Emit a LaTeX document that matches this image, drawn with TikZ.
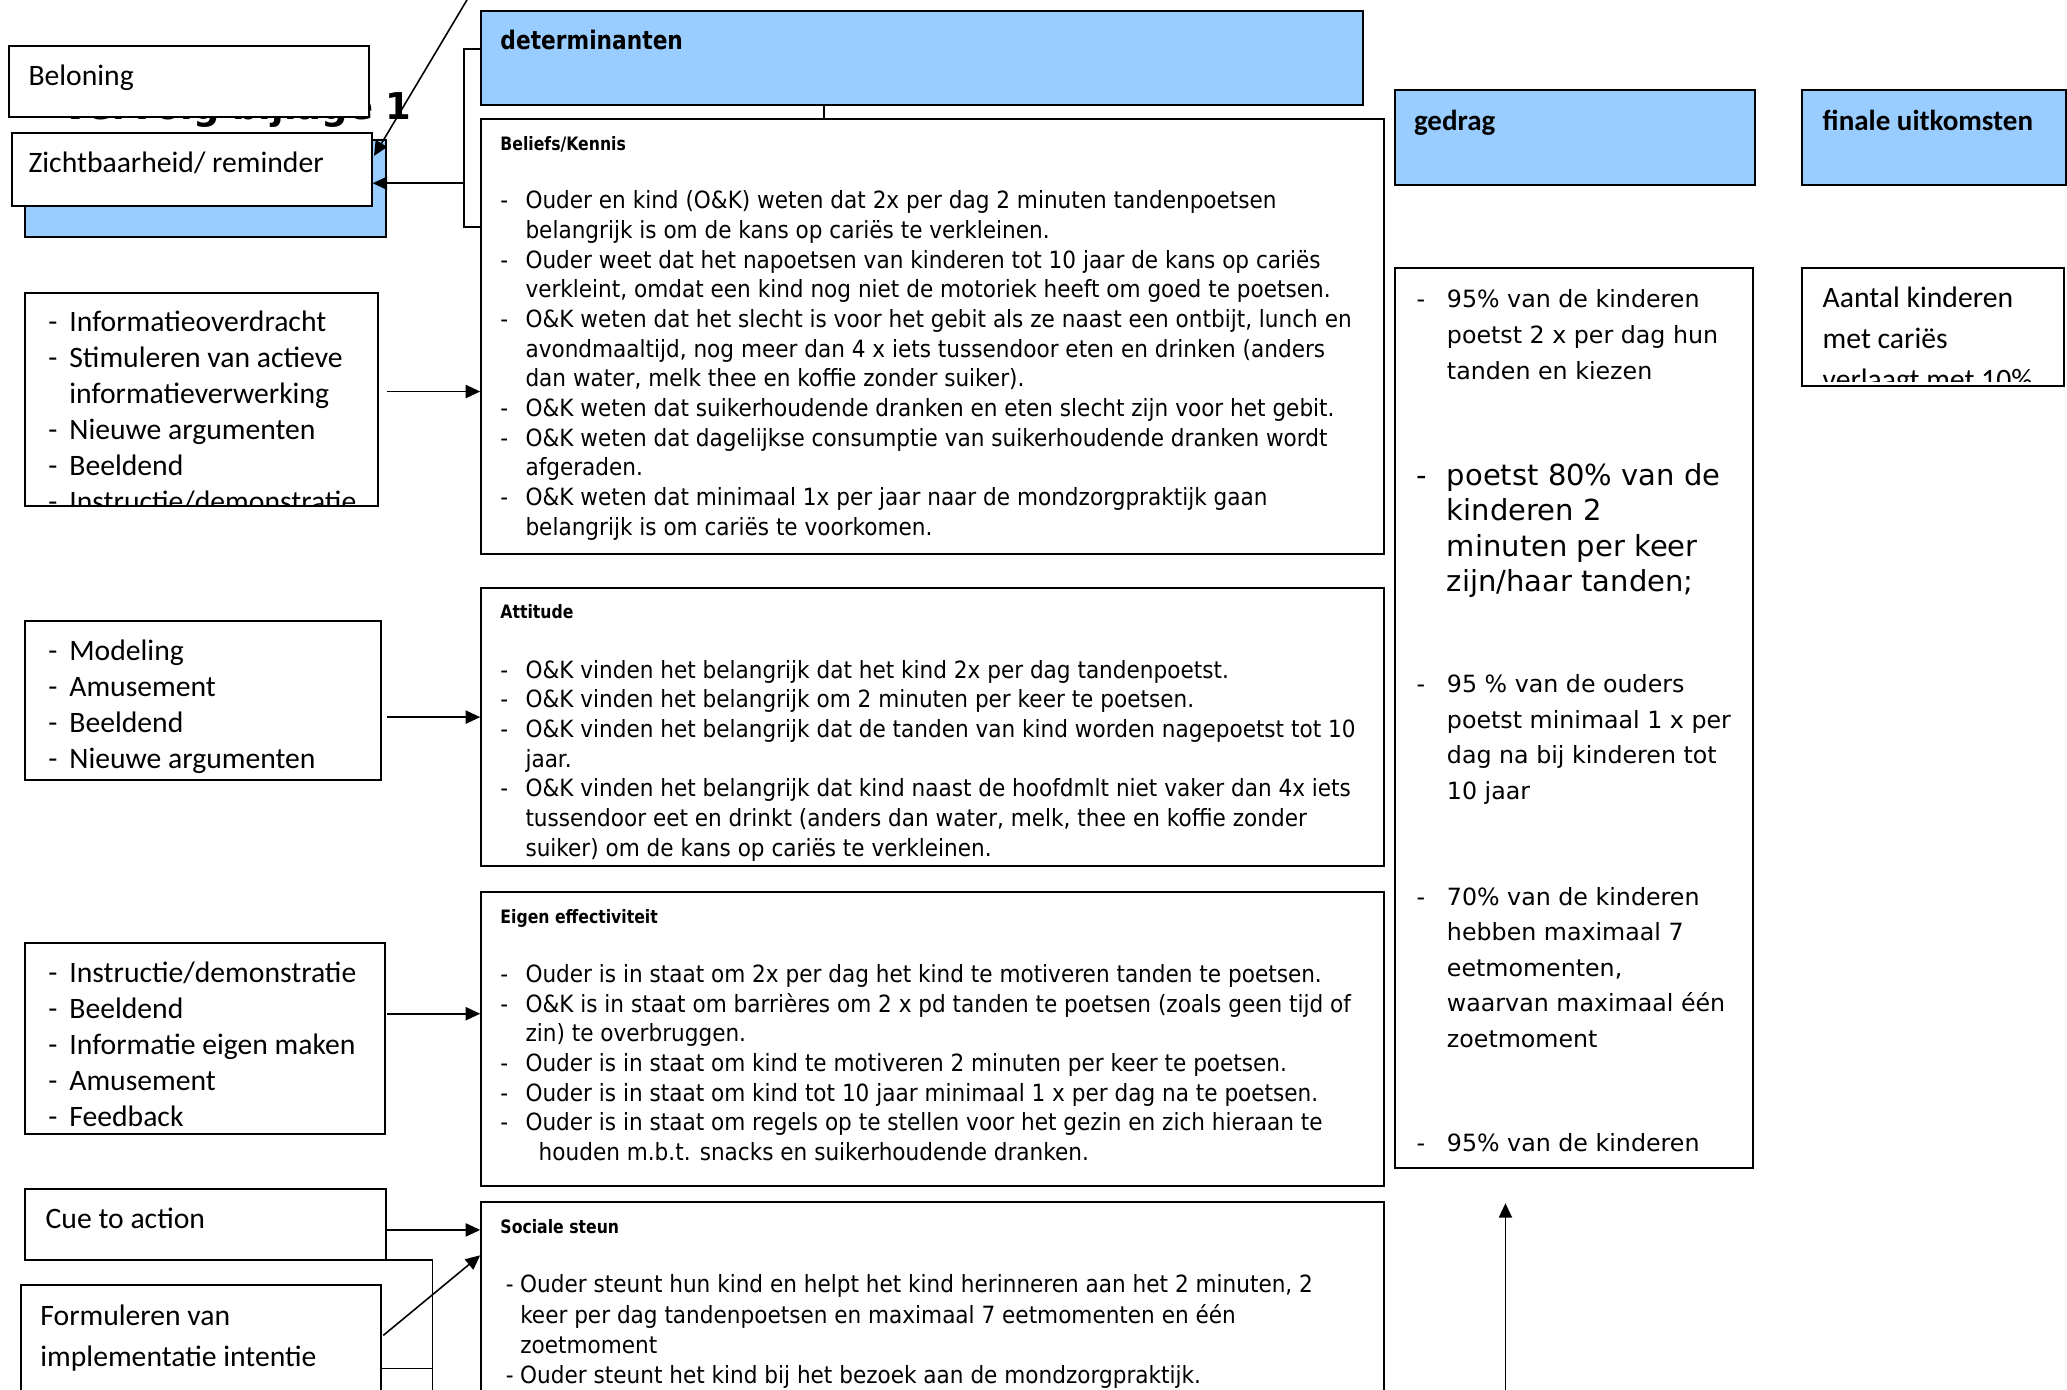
\documentclass[tikz,border=0pt]{standalone}
\usepackage{fontspec}
\setmainfont{Carlito}
\newfontfamily\verd[FakeStretch=0.91]{DejaVu Sans}
\newfontfamily\verdsmal[FakeStretch=0.85]{DejaVu Sans}
\newfontfamily\verdw{DejaVu Sans}
\usetikzlibrary{arrows.meta,fit,calc}
\definecolor{lichtblauw}{RGB}{153,204,255}
\newlength{\streepbreed}
\newcommand{\streep}{\makebox[\streepbreed][l]{-}}
\newcommand{\verder}{\hspace*{\streepbreed}}

\begin{document}
\begin{tikzpicture}[x=0.5pt,y=-0.5pt,>={Triangle[length=5.5pt,width=5pt]},
  vak/.style={draw,line width=0.75pt,fill=white,inner sep=0pt},
  kop/.style={vak,fill=lichtblauw},
  pijl/.style={->,line width=0.6pt},
  lijn/.style={line width=0.6pt},
  tekst/.style={anchor=base west,inner sep=0pt,font=\fontsize{11.25}{13}\selectfont},
  lijst/.style={anchor=north west,inner sep=0pt,align=left,
    font=\fontsize{11.25}{13.65}\selectfont\setlength{\streepbreed}{8pt}},
  det/.style={anchor=north west,inner sep=0pt,align=left,
    font=\verd\fontsize{9}{11.25}\selectfont\setlength{\streepbreed}{9.5pt}},
  steunlijst/.style={det,
    font=\verd\fontsize{9}{11.5}\selectfont\setlength{\streepbreed}{5.5pt}},
  dettitel/.style={anchor=base west,inner sep=0pt,font=\verdsmal\bfseries\fontsize{7}{8}\selectfont},
  kopje/.style={anchor=base west,inner sep=0pt,font=\bfseries\fontsize{11}{13}\selectfont},
  doel/.style={anchor=north west,inner sep=0pt,align=left,
    font=\verdw\fontsize{9}{13.5}\selectfont\setlength{\streepbreed}{11.5pt}}]

  \useasboundingbox (0,0) rectangle (1568,1054);

  % titel, grotendeels onder de vakken
  \node[anchor=base east,inner sep=0pt,font=\verdw\bfseries\fontsize{14}{16}\selectfont]
    (titel) at (312.6,91) {Vervolg bijlage 1};

  % linkerkolom
  \node[vak,fit={(7,35) (280,89)}] (beloning) {};
  \node[tekst] (beloningt) at ($(beloning.north west)+(15,30.6)$) {Beloning};
  \node[kop,fit={(19,106) (293,180)}] (blauw) {};
  \node[vak,fit={(9,101) (282,156)}] (zicht) {};
  \node[tekst] (zichtt) at ($(zicht.north west)+(13,30.6)$) {Zichtbaarheid/ reminder};

  \node[vak,fit={(19,222) (287,384)}] (info) {};
  \begin{scope}
    \clip (info.north west) rectangle ([yshift=1pt]info.south east);
    \node[lijst] (infot) at ($(info.north west)+(18,10.5)$) {\strut\streep Informatieoverdracht\\
      \streep Stimuleren van actieve\\ \verder informatieverwerking\\
      \streep Nieuwe argumenten\\ \streep Beeldend\\ \streep Instructie/demonstratie};
  \end{scope}

  \node[vak,fit={(19,471) (289,592)}] (model) {};
  \node[lijst] (modelt) at ($(model.north west)+(18,11.5)$) {\strut\streep Modeling\\
    \streep Amusement\\ \streep Beeldend\\ \streep Nieuwe argumenten};

  \node[vak,fit={(19,715) (292,860)}] (instr) {};
  \node[lijst] (instrt) at ($(instr.north west)+(18,11.5)$) {\strut\streep Instructie/demonstratie\\
    \streep Beeldend\\ \streep Informatie eigen maken\\ \streep Amusement\\ \streep Feedback};

  \node[vak,fit={(19,902) (293,956)}] (cue) {};
  \node[tekst] (cuet) at ($(cue.north west)+(16,30.6)$) {Cue to action};

  \node[vak,fit={(16,975) (289,1080)}] (form) {};
  \node[lijst,font=\fontsize{11.25}{15.5}\selectfont] (formt) at ($(form.north west)+(15,8.9)$)
    {\strut Formuleren van\\ implementatie intentie};

  % determinanten
  \node[kop,fit={(365,8) (1034,80)}] (det) {};
  \node[anchor=base west,inner sep=0pt,font=\verdsmal\bfseries\fontsize{9.7}{11}\selectfont]
    (dett) at ($(det.north west)+(15,30.4)$) {determinanten};

  \node[vak,fit={(365,90) (1050,420)}] (kennis) {};
  \node[dettitel] (kennist) at ($(kennis.north west)+(15,24.6)$) {Beliefs/Kennis};
  \node[det] (kennisl) at ($(kennis.north west)+(15,53)$) {\strut\streep Ouder en kind (O\&K) weten dat 2x per dag 2 minuten tandenpoetsen\\
    \verder belangrijk is om de kans op cariës te verkleinen.\\
    \streep Ouder weet dat het napoetsen van kinderen tot 10 jaar de kans op cariës\\
    \verder verkleint, omdat een kind nog niet de motoriek heeft om goed te poetsen.\\
    \streep O\&K weten dat het slecht is voor het gebit als ze naast een ontbijt, lunch en\\
    \verder avondmaaltijd, nog meer dan 4 x iets tussendoor eten en drinken (anders\\
    \verder dan water, melk thee en koffie zonder suiker).\\
    \streep O\&K weten dat suikerhoudende dranken en eten slecht zijn voor het gebit.\\
    \streep O\&K weten dat dagelijkse consumptie van suikerhoudende dranken wordt\\
    \verder afgeraden.\\
    \streep O\&K weten dat minimaal 1x per jaar naar de mondzorgpraktijk gaan\\
    \verder belangrijk is om cariës te voorkomen.};

  \node[vak,fit={(365,446) (1050,657)}] (attitude) {};
  \node[dettitel] (attitudet) at ($(attitude.north west)+(15,23.6)$) {Attitude};
  \node[det] (attitudel) at ($(attitude.north west)+(15,53)$) {\strut\streep O\&K vinden het belangrijk dat het kind 2x per dag tandenpoetst.\\
    \streep O\&K vinden het belangrijk om 2 minuten per keer te poetsen.\\
    \streep O\&K vinden het belangrijk dat de tanden van kind worden nagepoetst tot 10\\
    \verder jaar.\\
    \streep O\&K vinden het belangrijk dat kind naast de hoofdmlt niet vaker dan 4x iets\\
    \verder tussendoor eet en drinkt (anders dan water, melk, thee en koffie zonder\\
    \verder suiker) om de kans op cariës te verkleinen.};

  \node[vak,fit={(365,677) (1050,900)}] (eigen) {};
  \node[dettitel] (eigent) at ($(eigen.north west)+(15,24.6)$) {Eigen effectiviteit};
  \node[det] (eigenl) at ($(eigen.north west)+(15,53)$) {\strut\streep Ouder is in staat om 2x per dag het kind te motiveren tanden te poetsen.\\
    \streep O\&K is in staat om barrières om 2 x pd tanden te poetsen (zoals geen tijd of\\
    \verder zin) te overbruggen.\\
    \streep Ouder is in staat om kind te motiveren 2 minuten per keer te poetsen.\\
    \streep Ouder is in staat om kind tot 10 jaar minimaal 1 x per dag na te poetsen.\\
    \streep Ouder is in staat om regels op te stellen voor het gezin en zich hieraan te\\
    \hspace*{14.5pt}houden m.b.t. snacks en suikerhoudende dranken.};

  \node[vak,fit={(365,912) (1050,1110)}] (steun) {};
  \node[dettitel] (steunt) at ($(steun.north west)+(15,24.6)$) {Sociale steun};
  \node[steunlijst] (steunl) at ($(steun.north west)+(19,53)$) {\strut\streep Ouder steunt hun kind en helpt het kind herinneren aan het 2 minuten, 2\\
    \verder keer per dag tandenpoetsen en maximaal 7 eetmomenten en één\\
    \verder zoetmoment\\
    \streep Ouder steunt het kind bij het bezoek aan de mondzorgpraktijk.};

  % gedrag en uitkomsten
  \node[kop,fit={(1058,68) (1331,140)}] (gedrag) {};
  \node[kopje] (gedragt) at ($(gedrag.north west)+(15,31.6)$) {gedrag};
  \node[kop,fit={(1367,68) (1567,140)}] (finale) {};
  \node[kopje] (finalet) at ($(finale.north west)+(16,31.6)$) {finale uitkomsten};

  \node[vak,fit={(1058,203) (1330,886)}] (gedl) {};
  \node[doel] (doel1) at ($(gedl.north west)+(17,12)$) {\strut\streep 95\% van de kinderen\\
    \verder poetst 2 x per dag hun\\ \verder tanden en kiezen};
  \node[doel,font=\verdw\fontsize{11}{13.5}\selectfont\setlength{\streepbreed}{11.5pt}]
    (doel2) at ($(gedl.north west)+(17,146.4)$) {\strut\streep poetst 80\% van de\\
    \verder kinderen 2\\ \verder minuten per keer\\ \verder zijn/haar tanden;};
  \node[doel] (doel3) at ($(gedl.north west)+(17,304)$) {\strut\streep 95 \% van de ouders\\
    \verder poetst minimaal 1 x per\\ \verder dag na bij kinderen tot\\ \verder 10 jaar};
  \node[doel] (doel4) at ($(gedl.north west)+(17,465)$) {\strut\streep 70\% van de kinderen\\
    \verder hebben maximaal 7\\ \verder eetmomenten,\\ \verder waarvan maximaal één\\ \verder zoetmoment};
  \node[doel] (doel5) at ($(gedl.north west)+(17,652)$) {\strut\streep 95\% van de kinderen};

  \node[vak,fit={(1367,203) (1566,293)}] (finl) {};
  \begin{scope}
    \clip (finl.north west) rectangle ([yshift=2pt]finl.south east);
    \node[lijst,font=\fontsize{11.25}{15.5}\selectfont] (finlt) at ($(finl.north west)+(16,8.9)$)
      {\strut Aantal kinderen\\ met cariës\\ verlaagt met 10\%};
  \end{scope}

  % verbindingen
  \coordinate (knik) at (352,139);
  \draw[lijn] ([yshift=3.5pt]det.west) -| (knik) |- ([yshift=41.5pt]kennis.west);
  \draw[pijl] (knik) -- (knik -| zicht.east);
  \draw[lijn] ([xshift=-37.25pt]det.south) -- ([xshift=-41.25pt]kennis.north);
  \coordinate (boven) at (356,-3);
  \draw[pijl] (boven) -- ([shift={(1,18)}]zicht.north east);

  \coordinate (a1) at ([shift={(6,-6)}]info.east);
  \draw[pijl] (a1) -- (a1 -| kennis.west);
  \coordinate (a2) at ([shift={(4,12.5)}]model.east);
  \draw[pijl] (a2) -- (a2 -| attitude.west);
  \coordinate (a3) at ([shift={(1,-18.5)}]instr.east);
  \draw[pijl] (a3) -- (a3 -| eigen.west);
  \coordinate (a4) at ([shift={(0,4)}]cue.east);
  \draw[pijl] (a4) -- (a4 -| steun.west);
  \draw[pijl] ([shift={(1,-14.5)}]form.east) -- ([shift={(0,41)}]steun.north west);

  \coordinate (onder) at (328,1062);
  \draw[lijn] ([yshift=0.5pt]cue.south east) -| (onder);
  \coordinate (a5) at ([yshift=-5.25pt]form.east);
  \draw[lijn] (a5) -- (a5 -| onder);

  \coordinate (onder2) at (1142,1062);
  \draw[pijl] (onder2) -- ($(onder2 |- gedl.south)+(0,26)$);
\end{tikzpicture}
\end{document}
